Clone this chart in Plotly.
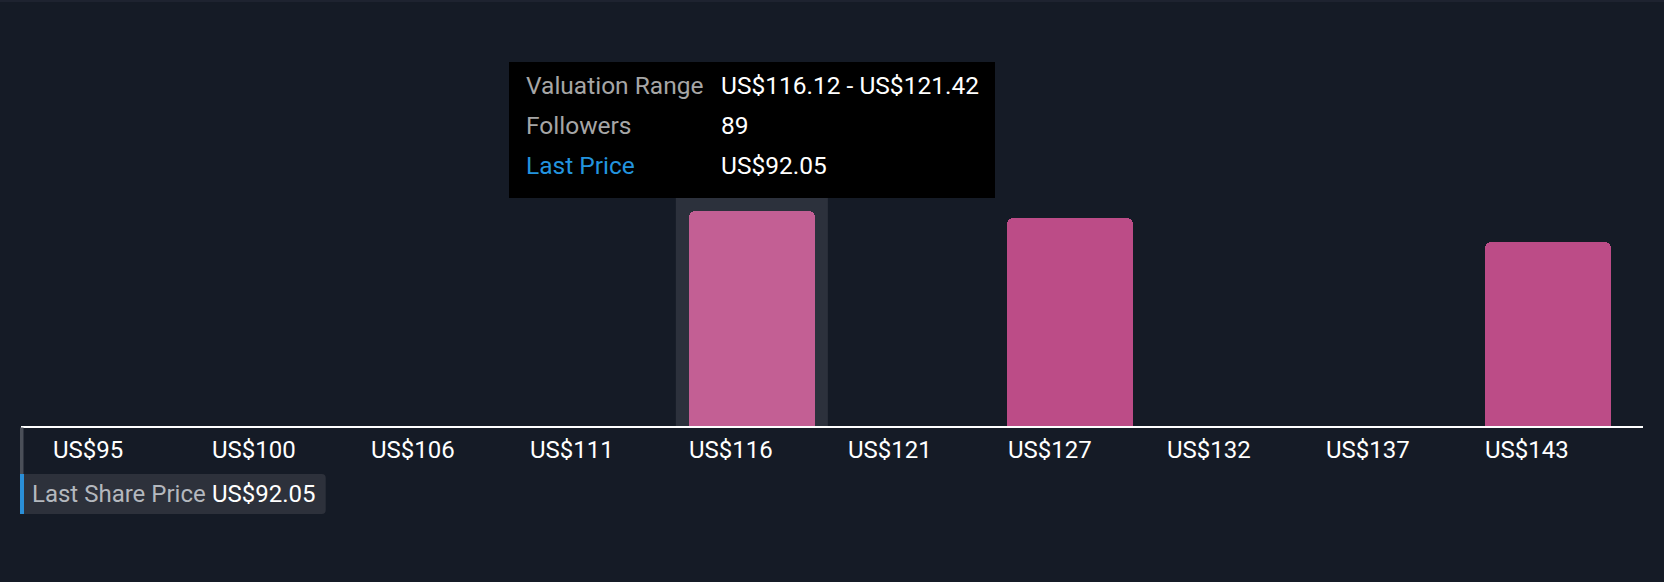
import plotly.graph_objects as go

# ---- data ----
bin_labels = ["US$95", "US$100", "US$106", "US$111", "US$116",
              "US$121", "US$127", "US$132", "US$137", "US$143"]
followers = [0, 0, 0, 0, 89, 0, 86, 0, 0, 76]
hover_index = 4
tooltip_rows = ["Valuation Range", "Followers", "Last Price"]
tooltip_vals = ["US$116.12 - US$121.42", "89", "US$92.05"]
last_price_label = "Last Share Price"
last_price_value = "US$92.05"

# ---- style ----
BG = "#151b26"
BAR = "#bc4c87"
BAR_HOVER = "#c35f94"
FONT = "Roboto"

W, H = 1664, 582
ML, MR, MT, MB = 21, 21, 20, 156
PW = W - ML - MR
PH = H - MT - MB


def px(xp):
    return (xp - ML) / PW


def py(yp):
    return (H - MB - yp) / PH


xs = list(range(len(bin_labels)))
colors = [BAR_HOVER if i == hover_index else BAR for i in xs]

fig = go.Figure()
fig.add_trace(go.Bar(
    x=xs, y=followers, width=0.793,
    marker=dict(color=colors, cornerradius=6, line=dict(width=0)),
    hoverinfo="skip", showlegend=False,
))

shapes = []
# hover highlight column
shapes.append(dict(type="rect", xref="x", yref="paper",
                   x0=hover_index - 0.4775, x1=hover_index + 0.4775,
                   y0=0, y1=py(198), fillcolor="#2c313c", line=dict(width=0),
                   layer="below"))
# top thin strip
shapes.append(dict(type="rect", xref="paper", yref="paper",
                   x0=px(0), x1=px(W), y0=py(0), y1=py(2),
                   fillcolor="#1e2330", line=dict(width=0), layer="below"))
# tooltip box
shapes.append(dict(type="rect", xref="paper", yref="paper",
                   x0=px(509), x1=px(995), y0=py(62), y1=py(198),
                   fillcolor="#000000", line=dict(width=0), layer="above"))
# last price marker line
shapes.append(dict(type="rect", xref="paper", yref="paper",
                   x0=px(20), x1=px(23.5), y0=py(427.5), y1=py(474),
                   fillcolor="#4a4f58", line=dict(width=0)))
# last price label box (rounded right corners)
bx0, bx1, by0, by1, rr = 20, 325.7, 474, 514, 4
path = (f"M {px(bx0)},{py(by0)} L {px(bx1 - rr)},{py(by0)} "
        f"Q {px(bx1)},{py(by0)} {px(bx1)},{py(by0 + rr)} "
        f"L {px(bx1)},{py(by1 - rr)} Q {px(bx1)},{py(by1)} {px(bx1 - rr)},{py(by1)} "
        f"L {px(bx0)},{py(by1)} Z")
shapes.append(dict(type="path", xref="paper", yref="paper", path=path,
                   fillcolor="#2d313b", line=dict(width=0)))
shapes.append(dict(type="rect", xref="paper", yref="paper",
                   x0=px(20), x1=px(24), y0=py(474), y1=py(514),
                   fillcolor="#2a8fd8", line=dict(width=0)))

annotations = []
# tick labels, left aligned at bar left edges
for i, lab in enumerate(bin_labels):
    annotations.append(dict(x=i - 0.3965 - 0.009, y=py(450), xref="x", yref="paper",
                            text=lab, showarrow=False, xanchor="left",
                            yanchor="middle",
                            font=dict(family=FONT, size=24, color="#ffffff")))
# tooltip
row_y = [85, 125, 165]
label_colors = ["#a6a6a6", "#a6a6a6", "#2394df"]
for r, lab in enumerate(tooltip_rows):
    annotations.append(dict(x=px(523.5), y=py(row_y[r] + 0.8), xref="paper", yref="paper",
                            text=lab, showarrow=False, xanchor="left",
                            yanchor="middle",
                            font=dict(family=FONT, size=24.5, color=label_colors[r])))
    annotations.append(dict(x=px(719.2), y=py(row_y[r] + 0.8), xref="paper", yref="paper",
                            text=tooltip_vals[r], showarrow=False, xanchor="left",
                            yanchor="middle",
                            font=dict(family=FONT, size=24.5, color="#ffffff")))
# last price label
annotations.append(dict(x=px(30.2), y=py(494), xref="paper", yref="paper",
                        text=last_price_label, showarrow=False, xanchor="left",
                        yanchor="middle",
                        font=dict(family=FONT, size=24, color="#b4b8be")))
annotations.append(dict(x=px(209.8), y=py(494), xref="paper", yref="paper",
                        text=last_price_value, showarrow=False, xanchor="left",
                        yanchor="middle",
                        font=dict(family=FONT, size=24, color="#ffffff")))

fig.update_layout(
    width=W, height=H,
    margin=dict(l=ML, r=MR, t=MT, b=MB, pad=0),
    paper_bgcolor=BG, plot_bgcolor=BG,
    shapes=shapes, annotations=annotations,
    bargap=0, showlegend=False,
    xaxis=dict(range=[-0.591, 9.598], showgrid=False, zeroline=False,
               showticklabels=False, ticks="", showline=True,
               linecolor="#ffffff", linewidth=2, fixedrange=True),
    yaxis=dict(range=[0, 89 * PH / 215.3], showgrid=False, zeroline=False,
               showticklabels=False, ticks="", showline=False, fixedrange=True),
    font=dict(family=FONT),
)

fig.write_html("out.html", config={"displayModeBar": False},
               post_script="document.body.style.margin='0';document.body.style.overflow='hidden';")
